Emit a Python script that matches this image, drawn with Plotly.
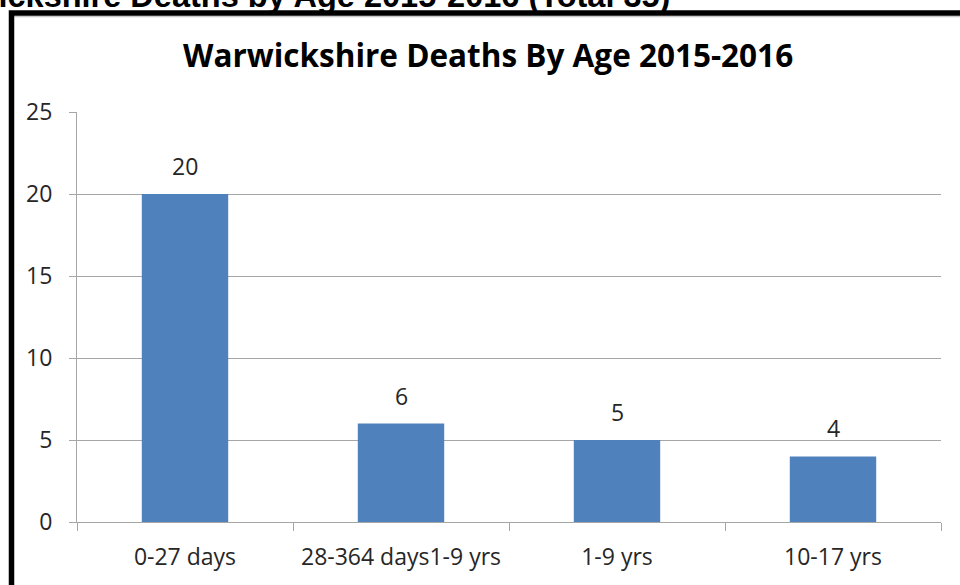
import plotly.graph_objects as go

categories = ["0-27 days", "28-364 days1-9 yrs", "1-9 yrs", "10-17 yrs"]
deaths = [20, 6, 5, 4]
y_ticks = [0, 5, 10, 15, 20, 25]

chart_title = "Warwickshire Deaths By Age 2015-2016"
page_title = "Warwickshire Deaths by Age 2015-2016 (Total 35)"

W, H = 960, 585
L, R, T, B = 77, 19, 112, 63
pw, ph = W - L - R, H - T - B

def px_x(p):
    return (p - L) / pw

def px_y(p):
    return (H - B - p) / ph

text_col = "#262626"
grid_col = "#A6A6A6"
font_family = "Open Sans"
label_size = 23

fig = go.Figure()
fig.add_trace(go.Bar(
    x=categories, y=deaths,
    marker=dict(color="#4F81BD", line=dict(width=0)),
    width=0.4,
    hoverinfo="skip",
))

annotations = []
for c, v in zip(categories, deaths):
    annotations.append(dict(
        x=c, y=v, xref="x", yref="y", text=str(v), showarrow=False,
        yanchor="bottom", yshift=10,
        font=dict(family=font_family, size=label_size, color=text_col),
    ))

annotations.append(dict(
    x=px_x(488), y=1, xref="paper", yref="paper", text="<b>" + chart_title + "</b>",
    showarrow=False, xanchor="center", yanchor="middle", yshift=58,
    font=dict(family=font_family, size=31.5, color="#000000"),
))

annotations.append(dict(
    x=px_x(672), y=1, xref="paper", yref="paper", text="<b>" + page_title + "</b>",
    showarrow=False, xanchor="right", yanchor="middle", yshift=116,
    font=dict(family="Liberation Sans", size=32.5, color="#000000"),
))

shapes = [
    dict(type="line", xref="paper", yref="paper", x0=px_x(14), x1=1.2,
         y0=px_y(16.5), y1=px_y(16.5), line=dict(color="#C8C8C8", width=1.5), layer="above"),
    dict(type="rect", xref="paper", yref="paper", x0=px_x(11.5), x1=1.3,
         y0=-0.5, y1=px_y(13), line=dict(color="#000000", width=5.5),
         fillcolor="rgba(0,0,0,0)", layer="above"),
]

fig.update_layout(
    width=W, height=H,
    margin=dict(l=L, r=R, t=T, b=B, pad=0),
    paper_bgcolor="white", plot_bgcolor="white",
    showlegend=False,
    annotations=annotations,
    shapes=shapes,
    font=dict(family=font_family, color=text_col),
)

fig.update_xaxes(
    type="category",
    showline=True, linecolor=grid_col, linewidth=1,
    ticks="outside", tickson="boundaries", ticklen=8, tickcolor=grid_col, tickwidth=1,
    showgrid=False,
    tickfont=dict(family=font_family, size=label_size, color=text_col),
    ticklabelstandoff=14,
)

fig.update_yaxes(
    range=[0, 25],
    tickvals=y_ticks,
    showline=True, linecolor=grid_col, linewidth=1,
    ticks="outside", ticklen=7, tickcolor=grid_col, tickwidth=1,
    showgrid=True, gridcolor=grid_col, gridwidth=1,
    zeroline=False,
    tickfont=dict(family=font_family, size=label_size, color=text_col),
    ticklabelstandoff=12,
)

fig.write_html(
    "out.html",
    config={"displayModeBar": False},
    post_script="document.body.style.margin='0';document.body.style.overflow='hidden';",
)
